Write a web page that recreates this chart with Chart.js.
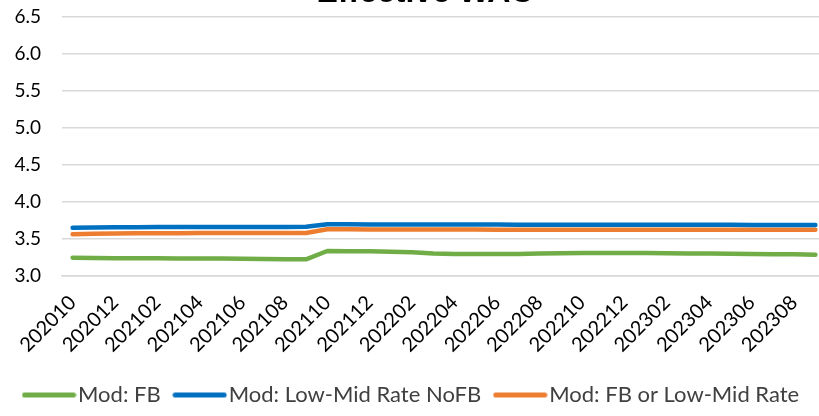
<!DOCTYPE html>
<html>
<head>
<meta charset="utf-8">
<script src="https://cdn.jsdelivr.net/npm/chart.js@4.4.1/dist/chart.umd.min.js"></script>
<style>
html,body{margin:0;padding:0;background:#fff;overflow:hidden;width:819px;height:416px;}
#clip{position:relative;width:819px;height:416px;overflow:hidden;}
#wrap{position:absolute;left:0;top:-26px;width:864px;height:442px;}
#c{display:block;width:864px;height:442px;}
</style>
</head>
<body>
<div id="clip"><div id="wrap"><canvas id="c" width="864" height="442"></canvas></div></div>
<script>
const categories = ["202010","202011","202012","202101","202102","202103","202104","202105","202106","202107","202108","202109",
"202110","202111","202112","202201","202202","202203","202204","202205","202206","202207","202208","202209",
"202210","202211","202212","202301","202302","202303","202304","202305","202306","202307","202308","202309"];
const modFB = [3.245,3.240,3.238,3.237,3.236,3.235,3.233,3.232,3.230,3.228,3.225,3.222,
3.335,3.333,3.330,3.325,3.318,3.300,3.295,3.293,3.293,3.295,3.300,3.305,
3.308,3.308,3.308,3.307,3.305,3.302,3.300,3.298,3.295,3.292,3.290,3.285];
const modLowMidNoFB = [3.650,3.652,3.655,3.656,3.657,3.658,3.658,3.659,3.660,3.660,3.660,3.662,
3.695,3.695,3.694,3.694,3.693,3.692,3.692,3.692,3.691,3.690,3.690,3.690,
3.690,3.690,3.689,3.689,3.689,3.688,3.688,3.688,3.687,3.687,3.686,3.685];
const modFBorLowMid = [3.560,3.568,3.572,3.574,3.575,3.575,3.576,3.576,3.577,3.577,3.577,3.578,
3.627,3.627,3.626,3.626,3.625,3.625,3.624,3.624,3.623,3.623,3.622,3.622,
3.622,3.622,3.621,3.621,3.621,3.620,3.620,3.620,3.620,3.620,3.620,3.620];
const yTicks = [3.0,3.5,4.0,4.5,5.0,5.5,6.0,6.5];

const colors = {fb:'#70ad47', nofb:'#0070c0', either:'#ed7d31'};

function legendLine(color){
  const w = 55, h = 7;
  const cv = document.createElement('canvas');
  cv.width = w; cv.height = h;
  const g = cv.getContext('2d');
  g.strokeStyle = color; g.lineWidth = 5; g.lineCap = 'round';
  g.beginPath(); g.moveTo(3, h/2); g.lineTo(w-3, h/2); g.stroke();
  return cv;
}
function ds(label, data, color){
  return {label, data, borderColor:color, backgroundColor:color, borderWidth:4.5,
    pointRadius:0, tension:0, borderCapStyle:'round', borderJoinStyle:'round', fill:false};
}
new Chart(document.getElementById('c'), {
  type:'line',
  data:{labels:categories, datasets:[
    ds('Mod: FB', modFB, colors.fb),
    ds('Mod: Low-Mid Rate NoFB', modLowMidNoFB, colors.nofb),
    ds('Mod: FB or Low-Mid Rate', modFBorLowMid, colors.either)
  ]},
  options:{
    responsive:false, animation:false, devicePixelRatio:1,
    layout:{padding:{left:10,right:24,top:0,bottom:0}},
    plugins:{
      title:{display:true, text:'Effective WAC', color:'#000',
        font:{family:'"Liberation Sans", Arial, sans-serif', size:32, weight:'bold'},
        padding:{top:0,bottom:4}},
      legend:{position:'bottom', align:'start',
        labels:{color:'#404040', font:{family:'Lato, sans-serif', size:22},
          usePointStyle:true, pointStyleWidth:36, boxHeight:7, padding:21,
          generateLabels(chart){
            return chart.data.datasets.map((d,i)=>({text:d.label, fillStyle:d.borderColor,
              strokeStyle:d.borderColor, lineWidth:0, hidden:false, datasetIndex:i,
              fontColor:'#404040', pointStyle:legendLine(d.borderColor)}));
          }}},
      tooltip:{enabled:false}
    },
    scales:{
      x:{type:'category', offset:true,
        afterFit(s){ s.height -= 9; },
        grid:{display:false, drawTicks:false},
        border:{display:true, color:'#d9d9d9', width:1.5},
        ticks:{autoSkip:false, maxRotation:45, minRotation:45, padding:15, color:'#000',
          font:{family:'Lato, sans-serif', size:20},
          callback(v,i){ return i%2===0 ? categories[i] : ''; }}},
      y:{min:3.0, max:6.5,
        afterBuildTicks(s){ s.ticks = yTicks.map(v=>({value:v})); },
        afterFit(s){ s.width = 52; },
        grid:{color:'#d9d9d9', lineWidth:1.5, drawTicks:false},
        border:{display:false},
        ticks:{padding:21, color:'#000', font:{family:'Lato, sans-serif', size:19},
          callback(v){ return Number(v).toFixed(1); }}},
      yPad:{position:'right', display:true, min:0, max:1,
        afterFit(s){ s.width = 14; },
        grid:{display:false, drawTicks:false}, border:{display:false},
        ticks:{display:false}}
    }
  }
});
</script>
</body>
</html>
